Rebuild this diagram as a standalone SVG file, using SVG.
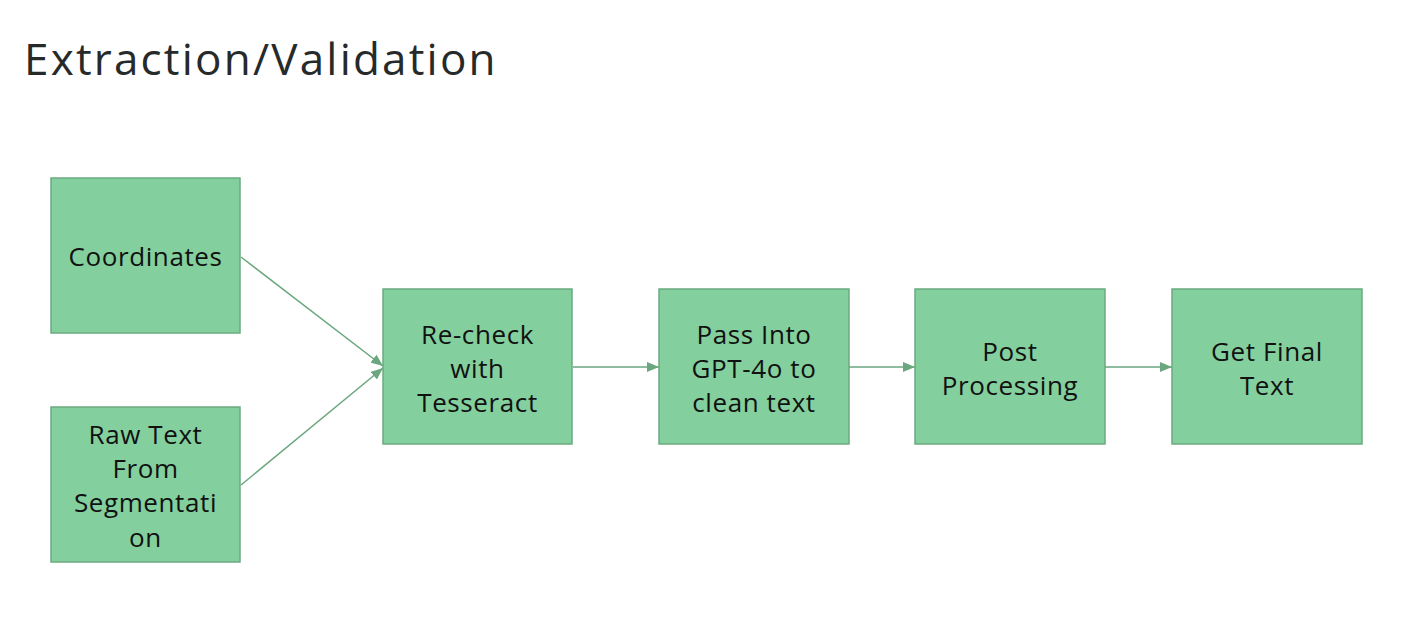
<svg xmlns="http://www.w3.org/2000/svg" width="1406" height="626" viewBox="0 0 1406 626">
<style>
.box{fill:#83cf9d;stroke:#6aab80;stroke-width:1.5}
.lbl{font-family:"Open Sans",Lato,sans-serif;font-size:26px;letter-spacing:0.6px;fill:#111;text-anchor:middle}
.title{font-family:"Open Sans",Lato,sans-serif;font-size:44px;letter-spacing:2.2px;fill:#262a2a}
.edge{stroke:#6aa67e;stroke-width:1.5;fill:none}
</style>
<defs>
<marker id="ah" viewBox="0 0 12 10" refX="12" refY="5" markerWidth="12" markerHeight="10" markerUnits="userSpaceOnUse" orient="auto">
<path d="M0,0 L12,5 L0,10 z" fill="#6aa67e"/>
</marker>
</defs>
<rect width="1406" height="626" fill="#fff"/>
<text class="title" x="24" y="75">Extraction/Validation</text>
<g id="connectors">
<line class="edge" x1="241" y1="257" x2="383" y2="366" marker-end="url(#ah)"/>
<line class="edge" x1="241" y1="485" x2="383" y2="368" marker-end="url(#ah)"/>
<line class="edge" x1="573" y1="367" x2="659" y2="367" marker-end="url(#ah)"/>
<line class="edge" x1="849" y1="367" x2="915" y2="367" marker-end="url(#ah)"/>
<line class="edge" x1="1105" y1="367" x2="1172" y2="367" marker-end="url(#ah)"/>
</g>
<g id="coordinates">
<rect class="box" x="51" y="178" width="189" height="155"/>
<text class="lbl" x="145.5" y="266">Coordinates</text>
</g>
<g id="rawtext">
<rect class="box" x="51" y="407" width="189" height="155"/>
<text class="lbl" x="145.5" y="444">Raw Text</text>
<text class="lbl" x="145.5" y="478">From</text>
<text class="lbl" x="145.5" y="512">Segmentati</text>
<text class="lbl" x="145.5" y="547">on</text>
</g>
<g id="recheck">
<rect class="box" x="383" y="289" width="189" height="155"/>
<text class="lbl" x="477.5" y="344">Re-check</text>
<text class="lbl" x="477.5" y="378">with</text>
<text class="lbl" x="477.5" y="412">Tesseract</text>
</g>
<g id="gpt">
<rect class="box" x="659" y="289" width="190" height="155"/>
<text class="lbl" x="754" y="344">Pass Into</text>
<text class="lbl" x="754" y="378">GPT-4o to</text>
<text class="lbl" x="754" y="412">clean text</text>
</g>
<g id="post">
<rect class="box" x="915" y="289" width="190" height="155"/>
<text class="lbl" x="1010" y="361">Post</text>
<text class="lbl" x="1010" y="395">Processing</text>
</g>
<g id="final">
<rect class="box" x="1172" y="289" width="190" height="155"/>
<text class="lbl" x="1267" y="361">Get Final</text>
<text class="lbl" x="1267" y="395">Text</text>
</g>
</svg>
